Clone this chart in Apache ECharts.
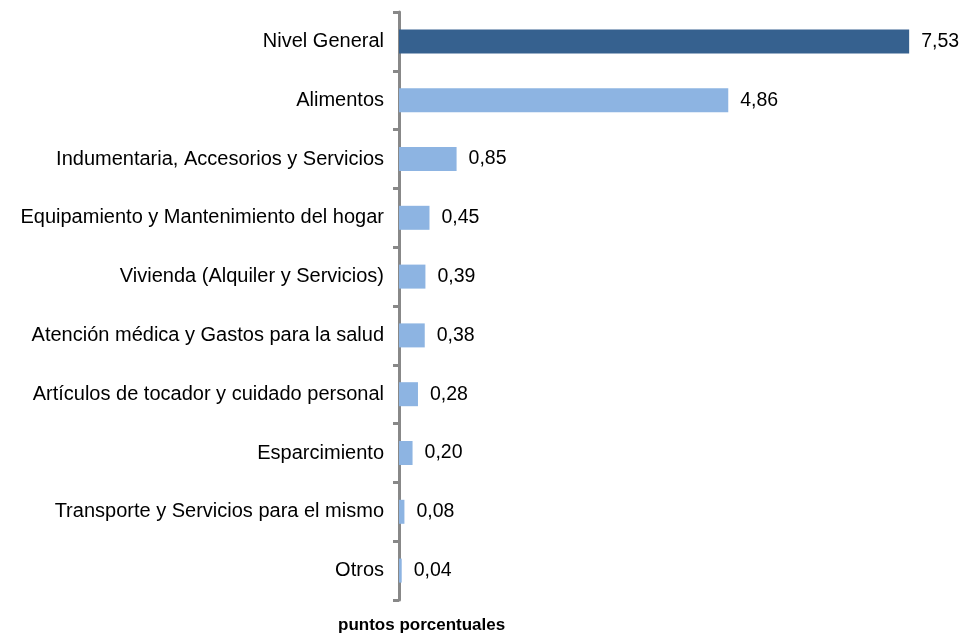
<!DOCTYPE html>
<html lang="es">
<head>
<meta charset="UTF-8">
<title>Incidencia por capítulo</title>
<script src="https://cdn.jsdelivr.net/npm/echarts@6/dist/echarts.min.js"></script>
<style>
  html, body { margin: 0; padding: 0; background: #ffffff; }
  #chart { width: 962px; height: 637px; }
</style>
</head>
<body>
<div id="chart"></div>
<script>
var categories = [
  'Nivel General',
  'Alimentos',
  'Indumentaria, Accesorios y Servicios',
  'Equipamiento y Mantenimiento del hogar',
  'Vivienda (Alquiler y Servicios)',
  'Atención médica y Gastos para la salud',
  'Artículos de tocador y cuidado personal',
  'Esparcimiento',
  'Transporte y Servicios para el mismo',
  'Otros'
];
var values = [7.53, 4.86, 0.85, 0.45, 0.39, 0.38, 0.28, 0.20, 0.08, 0.04];

var chart = echarts.init(document.getElementById('chart'));
var font = 'Liberation Sans, Arial, sans-serif';

chart.setOption({
  animation: false,
  grid: { left: 399, top: 12, bottom: 37, right: 21, containLabel: false },
  xAxis: {
    type: 'value',
    min: 0,
    max: 8,
    show: false
  },
  yAxis: {
    type: 'category',
    data: categories,
    inverse: true,
    axisLine: { show: true, lineStyle: { color: '#888888', width: 3 } },
    axisTick: { show: true, interval: 0, length: 6, lineStyle: { color: '#888888', width: 3 } },
    axisLabel: { color: '#000000', fontSize: 20, fontFamily: font, margin: 15 }
  },
  series: [{
    type: 'bar',
    barWidth: 24,
    data: values.map(function (v, i) {
      return { value: v, itemStyle: { color: i === 0 ? '#36618F' : '#8DB4E2' } };
    }),
    label: {
      show: true,
      position: 'right',
      distance: 12,
      color: '#000000',
      fontSize: 19.5,
      fontFamily: font,
      formatter: function (p) { return p.value.toFixed(2).replace('.', ','); }
    }
  }],
  graphic: [{
    type: 'text',
    left: 338,
    top: 617,
    style: {
      text: 'puntos porcentuales',
      fontSize: 17,
      fontWeight: 'bold',
      fontFamily: font,
      fill: '#000000'
    }
  }]
});
</script>
</body>
</html>
